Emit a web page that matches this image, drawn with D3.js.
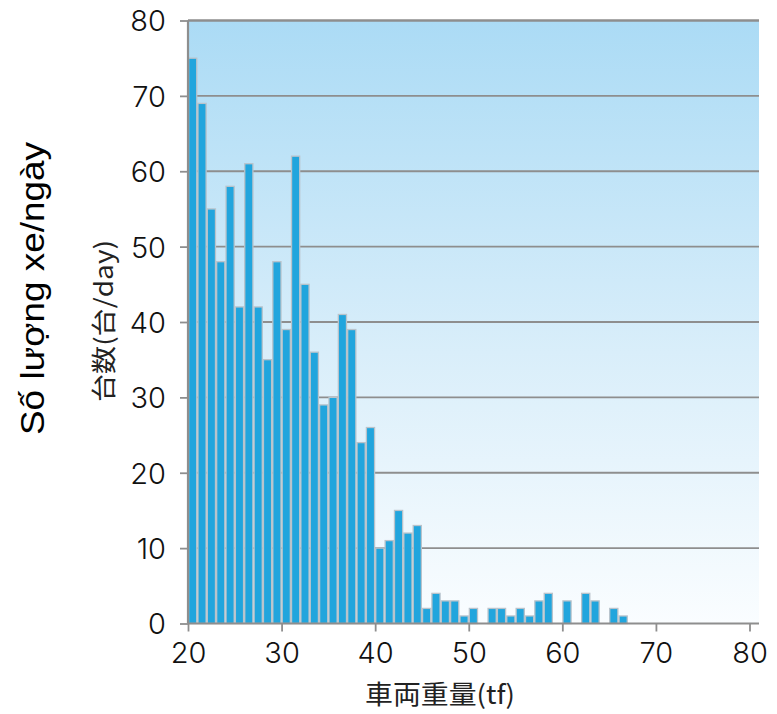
<!DOCTYPE html>
<html>
<head>
<meta charset="utf-8">
<script src="https://cdn.jsdelivr.net/npm/d3@7"></script>
<style>
  html, body { margin: 0; padding: 0; background: #ffffff; }
  svg { display: block; }
</style>
</head>
<body>
<svg id="chart" width="777" height="714"></svg>
<script>
// ---- data ----
const weights = [20,21,22,23,24,25,26,27,28,29,30,31,32,33,34,35,36,37,38,39,40,41,42,43,44,45,46,47,48,49,50,51,52,53,54,55,56,57,58,59,60,61,62,63,64,65,66];
const counts  = [75,69,55,48,58,42,61,42,35,48,39,62,45,36,29,30,41,39,24,26,10,11,15,12,13,2,4,3,3,1,2,0,2,2,1,2,1,3,4,0,3,0,4,3,0,2,1];
const xTicks = [20,30,40,50,60,70,80];
const yTicks = [0,10,20,30,40,50,60,70,80];
const xTitle = "車両重量(tf)";
const yTitle = "台数(台/day)";
const yTitleVi = "Số lượng xe/ngày";

(function () {
const svg = d3.select("#chart");
const pL = 188, pR = 759, pT = 20.5, pB = 623.5;
const x = d3.scaleLinear().domain([20, 80]).range([pL, 749.5]);
const y = d3.scaleLinear().domain([0, 80]).range([pB, pT]);

// background gradient
const defs = svg.append("defs");
const grad = defs.append("linearGradient").attr("id", "bg").attr("x1", 0).attr("y1", 0).attr("x2", 0).attr("y2", 1);
grad.append("stop").attr("offset", "0%").attr("stop-color", "#abdbf5");
grad.append("stop").attr("offset", "55%").attr("stop-color", "#d9eefa");
grad.append("stop").attr("offset", "100%").attr("stop-color", "#fafdff");
svg.append("rect").attr("x", pL).attr("y", pT).attr("width", pR - pL).attr("height", pB - pT).attr("fill", "url(#bg)");

// gridlines
svg.append("g").selectAll("line").data(yTicks.filter(d => d > 0)).join("line")
  .attr("x1", pL).attr("x2", pR)
  .attr("y1", d => y(d)).attr("y2", d => y(d))
  .attr("stroke", "#8e8e8e")
  .attr("stroke-width", d => d === 80 ? 2.5 : 1.8);

// bars
svg.append("g").selectAll("rect").data(weights.map((w, i) => ({w, c: counts[i]})).filter(d => d.c > 0)).join("rect")
  .attr("x", d => x(d.w) + 0.6)
  .attr("width", d => x(d.w + 1) - x(d.w) - 1.2)
  .attr("y", d => y(d.c))
  .attr("height", d => y(0) - y(d.c))
  .attr("fill", "#21a5dd")
  .attr("stroke", "#b9c3cb")
  .attr("stroke-width", 1.3);

const tickFont = "Inter, 'DejaVu Sans', sans-serif";

// y axis
const yAxis = svg.append("g").attr("transform", `translate(${pL},0)`)
  .call(d3.axisLeft(y).tickValues(yTicks).tickSize(8).tickPadding(14).tickFormat(d3.format("d")));
yAxis.select(".domain").attr("stroke", "#8e8e8e").attr("stroke-width", 2.2).attr("d", `M0,${pT}V${pB}`);
yAxis.selectAll(".tick line").attr("stroke", "#8e8e8e").attr("stroke-width", 1.8);
yAxis.selectAll(".tick text").attr("fill", "#111").style("font-family", tickFont).style("font-size", "29px").style("font-weight", "300").attr("dy", "0.36em");

// x axis
const xAxis = svg.append("g").attr("transform", `translate(0,${pB})`)
  .call(d3.axisBottom(x).tickValues(xTicks).tickSize(8).tickPadding(10).tickFormat(d3.format("d")));
xAxis.select(".domain").attr("stroke", "#8e8e8e").attr("stroke-width", 2.2).attr("d", `M${pL},0H${pR}`);
xAxis.selectAll(".tick line").attr("stroke", "#8e8e8e").attr("stroke-width", 1.8);
xAxis.selectAll(".tick text").attr("fill", "#111").style("font-family", tickFont).style("font-size", "29px").style("font-weight", "300").attr("dy", "0.73em");

// titles
svg.append("text").attr("x", 365).attr("y", 704)
  .attr("textLength", 150).attr("lengthAdjust", "spacingAndGlyphs")
  .style("font-family", "'Noto Sans CJK JP', sans-serif").style("font-size", "26px").attr("fill", "#222")
  .text(xTitle);

svg.append("text").attr("transform", "translate(113,402) rotate(-90)")
  .attr("textLength", 162).attr("lengthAdjust", "spacingAndGlyphs")
  .style("font-family", "'Noto Sans CJK JP', sans-serif").style("font-size", "25px").attr("fill", "#222")
  .text(yTitle);

svg.append("text").attr("transform", "translate(44,435) rotate(-90)")
  .attr("textLength", 293).attr("lengthAdjust", "spacingAndGlyphs")
  .style("font-family", "'Liberation Sans', Arial, sans-serif").style("font-size", "34px").attr("fill", "#000")
  .text(yTitleVi);
})();
</script>
</body>
</html>
